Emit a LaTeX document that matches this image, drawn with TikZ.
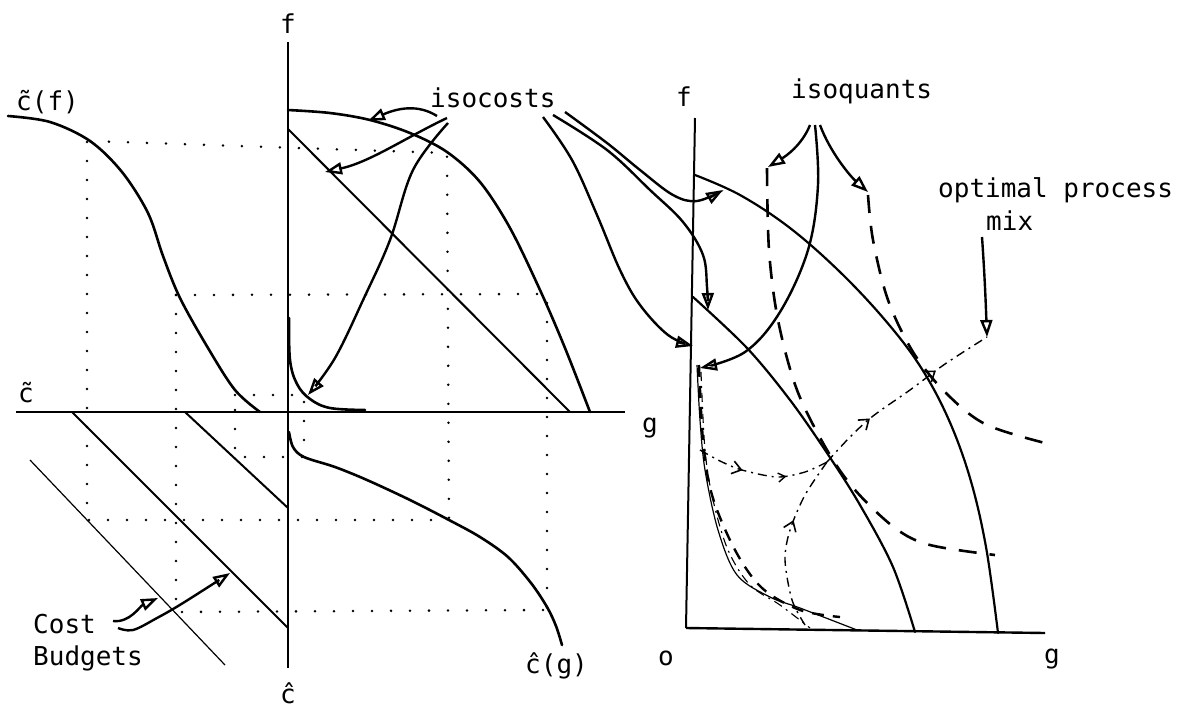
\documentclass[tikz,border=0pt]{standalone}
\usepackage{fontspec}
\usepackage{graphicx}
\newfontfamily\lbl{DejaVu Sans Mono}
\usetikzlibrary{arrows.meta,decorations.markings}
\newcommand\vtc{c\char"0303\relax}
\begin{document}
\begin{tikzpicture}[x=1pt,y=-1pt,
  lab/.style={font=\lbl\fontsize{26}{30}\selectfont, inner sep=0pt, anchor=base west},
  ax/.style={line width=2pt},
  crv/.style={line width=2.6pt, line cap=round, line join=round},
  lin/.style={line width=2pt, line cap=round},
  fine/.style={line width=1.2pt},
  dots/.style={line width=2.8pt, line cap=round, dash pattern=on 0pt off 19pt},
  isoq/.style={line width=2.6pt, dash pattern=on 18pt off 13pt},
  isoqs/.style={line width=2.4pt, dash pattern=on 12pt off 9pt},
  dashdot/.style={line width=1.1pt, dash pattern=on 9pt off 5pt on 2pt off 5pt},
  oarr/.style={line width=2.4pt, -{Triangle[open,length=17pt,width=12pt]}},
  barbs/.style={postaction={decorate}, decoration={markings, #1}}
]
\useasboundingbox (0,0) rectangle (1194,710);

% ---------------- labels ----------------
\node[lab, anchor=base] (fL) at (288,33) {f};
\node[lab] (cf) at (16,110) {\vtc(f)};
\node[lab] (ct) at (18,402) {\vtc};
\node[lab, anchor=base] (gL) at (650,432) {g};
\node[lab, anchor=base] (chat) at (288,703) {\^c};
\node[lab] (cg) at (525,673) {\^c(g)};
\node[lab] (iso) at (430,107) {isocosts};
\node[lab] (cost) at (33,633) {Cost};
\node[lab] (bud) at (33,665) {Budgets};
\node[lab, anchor=base] (fR) at (684,106) {f};
\node[lab] (isq) at (791,98) {isoquants};
\node[lab] (opt) at (938,197) {optimal process};
\node[lab] (mix) at (986,230) {mix};
\node[lab, anchor=base] (o) at (666,665) {o};
\node[lab, anchor=base] (gR) at (1052,663) {g};

% ---------------- left panel axes ----------------
\coordinate (Ltop) at (288,42);
\coordinate (Lbot) at (288,668);
\coordinate (Hl) at (16,412);
\coordinate (Hr) at (625,412);
\draw[ax] (Ltop) -- (Lbot);
\draw[line width=2.4pt] (Hl) -- (Hr);

% dotted construction lines
\draw[dots] (90,141) -- (447,153) -- (449,520);
\draw[dots] (87,142) -- (87,520) -- (449,520);
\draw[dots] (176,295) -- (547,294) -- (547,609);
\draw[dots] (176,295) -- (176,612) -- (547,610);
\draw[dots] (235,395) -- (304,395) -- (304,457) -- (235,457) -- cycle;

% c~(f)
\draw[crv] plot[smooth, tension=0.55] coordinates {(8,116) (50,122) (90,141) (122,172) (148,213) (163,256) (180,298) (208,348) (235,390) (260,412)};
% frontier and straight isocost
\draw[crv] plot[smooth, tension=0.55] coordinates {(288,110) (330,113) (370,120) (410,133) (447,152) (480,182) (510,228) (540,290) (565,348) (590,412)};
\draw[lin] (288,129) -- (570,412);
% curve near origin
\draw[crv] plot[smooth, tension=0.6] coordinates {(289,318) (290,360) (297,384) (310,399) (330,408) (365,410)};
% c^(g)
\draw[crv] plot[smooth, tension=0.55] coordinates {(289,432) (293,447) (304,457) (335,467) (367,480) (410,500) (449,520) (480,537) (508,557) (531,583) (547,607) (556,626) (562,645)};
% budget lines
\draw[lin] (185,412) -- (288,508);
\draw[lin] (72,412) -- (288,628);
\draw[fine] (30,460) -- (225,665);

% isocost arrows (left)
\coordinate (ia1) at (437,116); \coordinate (ta1) at (368,121);
\draw[oarr] (ia1) .. controls (418,104) and (398,108) .. (ta1);
\coordinate (ia2) at (447,118); \coordinate (ta2) at (325,172);
\draw[oarr] (ia2) .. controls (405,138) and (370,162) .. (ta2);
\draw[oarr] plot[smooth, tension=0.6] coordinates {(448,123) (413,170) (390,240) (364,298) (335,358) (308,395)};

% cost budget arrows
\draw[oarr] (113,621) .. controls (130,623) and (140,606) .. (158,598);
\draw[oarr] plot[smooth, tension=0.6] coordinates {(118,628) (133,630) (157,618) (183,603) (230,573)};

% ---------------- right panel ----------------
\coordinate (Rtop) at (695,118);
\coordinate (Ro) at (686,628);
\coordinate (Rr) at (1045,633);
\draw[ax] (Rtop) -- (Ro);
\draw[line width=2.4pt] (Ro) -- (Rr);

% isocosts
\draw[crv, line width=2.2pt] plot[smooth, tension=0.6] coordinates {(695,175) (740,195) (790,228) (840,272) (885,320) (920,366) (948,418) (970,478) (986,547) (998,633)};
\draw[crv, line width=2.2pt] plot[smooth, tension=0.55] coordinates {(693,297) (747,348) (790,400) (827,453) (860,505) (893,567) (915,632)};

% isoquants
\draw[isoq] plot[smooth, tension=0.55] coordinates {(767,168) (769,250) (778,320) (797,390) (827,450) (855,490) (895,528) (930,545) (995,555)};
\draw[isoq] plot[smooth, tension=0.55] coordinates {(868,195) (873,240) (888,300) (913,352) (945,392) (985,424) (1045,443)};
\draw[fine] plot[smooth, tension=0.55] coordinates {(697,365) (700,420) (705,470) (718,530) (737,575) (770,597) (800,608) (857,630)};
\draw[isoqs] plot[smooth, tension=0.55] coordinates {(699,365) (703,440) (712,495) (735,550) (762,588) (800,610) (840,617)};
\draw[dashdot] plot[smooth, tension=0.55] coordinates {(701,372) (705,450) (713,500) (728,550) (750,585) (780,605) (810,628)};

% optimal process mix path
\draw[dashdot, line width=1.4pt, barbs={mark=at position 0.35 with {\arrow{Straight Barb[length=9pt,width=13pt,line width=1.6pt]}}, mark=at position 0.68 with {\arrow{Straight Barb[length=7pt,width=9pt,line width=1.4pt]}}}]
  plot[smooth, tension=0.5] coordinates {(700,450) (720,461) (742,470) (777,477) (805,472) (827,462)};
\draw[dashdot, line width=1.4pt, barbs={mark=at position 0.62 with {\arrow{Straight Barb[length=9pt,width=13pt,line width=1.6pt]}}}]
  plot[smooth, tension=0.5] coordinates {(805,625) (792,600) (785,560) (790,530) (805,495) (827,462)};
\draw[dashdot, line width=1.4pt, barbs={mark=at position 0.3 with {\arrow{Straight Barb[length=9pt,width=13pt,line width=1.6pt]}}, mark=at position 0.7 with {\arrow{Straight Barb[length=9pt,width=13pt,line width=1.6pt]}}}]
  plot[smooth, tension=0.5] coordinates {(827,462) (850,437) (873,416) (910,390) (945,364) (987,337)};

% isocost arrows (right)
\draw[oarr] plot[smooth, tension=0.6] coordinates {(565,112) (607,143) (640,170) (673,195) (697,201) (723,190)};
\draw[oarr] plot[smooth, tension=0.6] coordinates {(553,115) (607,150) (650,190) (683,222) (703,255) (707,287) (708,310)};
\draw[oarr] plot[smooth, tension=0.6] coordinates {(543,117) (572,160) (597,215) (620,270) (640,305) (668,335) (693,346)};

% isoquant arrows
\draw[oarr] (810,125) .. controls (802,145) and (786,156) .. (768,167);
\draw[oarr] plot[smooth, tension=0.6] coordinates {(815,125) (818,185) (808,250) (780,312) (745,352) (700,368)};
\draw[oarr] (820,125) .. controls (830,152) and (850,176) .. (868,192);

% mix arrow
\draw[oarr] (982,237) .. controls (985,280) and (986,310) .. (987,337);
\end{tikzpicture}
\end{document}
